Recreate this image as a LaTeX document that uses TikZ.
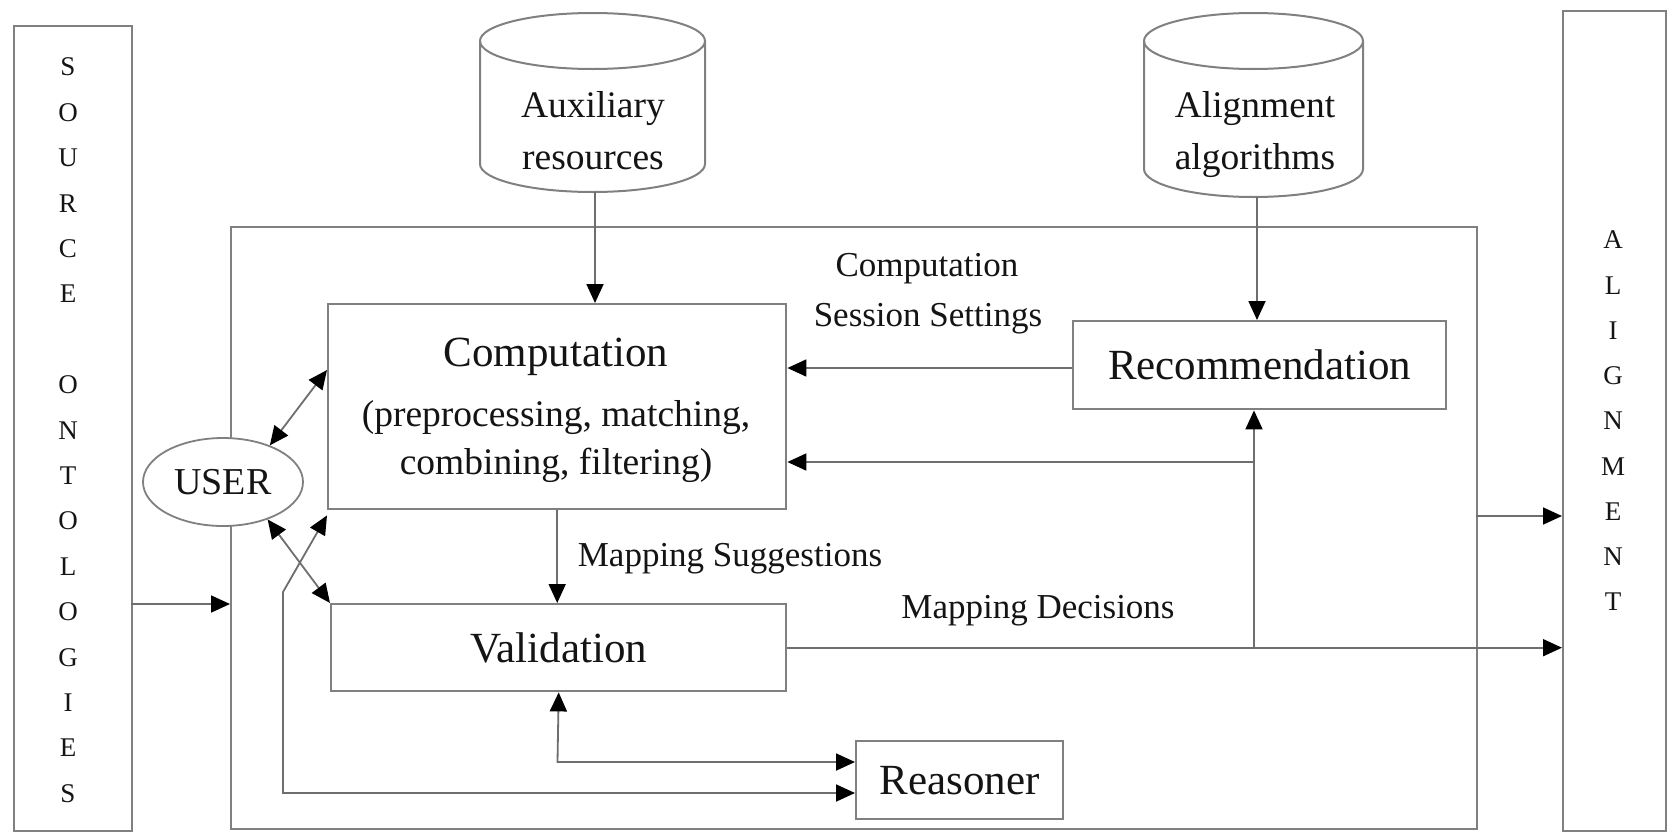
\documentclass[tikz,border=0pt]{standalone}
\usepackage{fontspec}
\setmainfont{Liberation Serif}
\usetikzlibrary{arrows.meta,shapes.geometric}
\definecolor{boxgray}{RGB}{128,128,128}
\definecolor{linegray}{RGB}{110,110,110}
\definecolor{txt}{RGB}{20,20,20}
\begin{document}
\begin{tikzpicture}[x=1pt,y=-1pt,
  box/.style={draw=boxgray, line width=2.4pt, fill=white, inner sep=0pt, anchor=north west},
  tip/.tip={Triangle[length=19pt,width=17pt,color=black]},
  conn/.style={draw=linegray, line width=1.8pt, -tip},
  both/.style={draw=linegray, line width=1.8pt, tip-tip},
  cyl/.style={draw=boxgray, line width=2pt},
  bigtxt/.style={text=txt, inner sep=0pt, font=\fontsize{43}{48}\selectfont},
  subtxt/.style={text=txt, inner sep=0pt, font=\fontsize{37.5}{44}\selectfont},
  labtxt/.style={text=txt, inner sep=0pt, font=\fontsize{35}{40}\selectfont},
  cyltxt/.style={text=txt, inner sep=0pt, align=center, font=\fontsize{37.5}{52}\selectfont},
  lettxt/.style={text=txt, inner sep=0pt, font=\fontsize{27}{29}\selectfont}
]
\useasboundingbox (0,0) rectangle (1674,833);

% main frame
\node[box, minimum width=1246pt, minimum height=602pt] (frame) at (230,226) {};

% side boxes
\node[box, minimum width=118pt, minimum height=805pt] (src) at (13,25) {};
\node[box, minimum width=103pt, minimum height=820pt] (algn) at (1562,10) {};
\foreach \l [count=\i from 0] in {S,O,U,R,C,E,{},O,N,T,O,L,O,G,I,E,S}
  \node[lettxt] (s\i) at (68,67+45.4*\i) {\l};
\foreach \l [count=\i from 0] in {A,L,I,G,N,M,E,N,T}
  \node[lettxt] (a\i) at (1613,240+45.25*\i) {\l};

% cylinders
\draw[cyl, fill=white] (480,41) -- (480,164) arc[start angle=180, end angle=0, x radius=112.5, y radius=28] -- (705,41);
\draw[cyl] (592.5,41) ellipse[x radius=112.5, y radius=28];
\node[cyltxt] (aux) at (593,131) {Auxiliary\\resources};
\draw[cyl, fill=white] (1144,41) -- (1144,169) arc[start angle=180, end angle=0, x radius=109.5, y radius=28] -- (1363,41);
\draw[cyl] (1253.5,41) ellipse[x radius=109.5, y radius=28];
\node[cyltxt] (alg) at (1255,135) {Alignment\\algorithms};
\coordinate (auxb) at (595,192);
\coordinate (algb) at (1257,197);

% process boxes
\node[box, minimum width=458pt, minimum height=205pt] (comp) at (327,303) {};
\node[bigtxt] (ctitle) at (556,357) {Computation};
\node[subtxt] (csub1) at (556,418) {(preprocessing, matching,};
\node[subtxt] (csub2) at (556,465) {combining, filtering)};
\node[box, minimum width=373pt, minimum height=88pt] (rec) at (1072,320) {};
\node[bigtxt] (rectxt) at (rec.center) {Recommendation};
\node[box, minimum width=455pt, minimum height=87pt] (val) at (330,603) {};
\node[bigtxt] (valtxt) at (val.center) {Validation};
\node[box, minimum width=207pt, minimum height=78pt] (reas) at (855,740) {};
\node[bigtxt] (reastxt) at (reas.center) {Reasoner};
\node[ellipse, draw=boxgray, line width=1.8pt, fill=white, minimum width=160pt, minimum height=88pt, inner sep=0pt, text=txt, font=\fontsize{38}{42}\selectfont] (user) at (223,482) {USER};

% labels
\node[labtxt] (lcomp) at (927,269) {Computation};
\node[labtxt] (lsess) at (928,319) {Session Settings};
\node[labtxt] (lsugg) at (730,559) {Mapping Suggestions};
\node[labtxt] (ldec) at (1038,611) {Mapping Decisions};

% connectors
\draw[conn] (auxb) -- (auxb |- comp.north);
\draw[conn] (algb) -- (algb |- rec.north);
\coordinate (rl) at (1072,368);
\draw[conn] (rl) -- (rl -| comp.east);
\coordinate (j) at (1254,646.5);
\coordinate (k) at (1254,462);
\draw[conn] (val.east) -- (val.east -| algn.west);
\draw[conn] (j) -- (j |- rec.south);
\draw[conn] (k) -- (k -| comp.east);
\coordinate (fo) at (1476,516);
\draw[conn] (fo) -- (fo -| algn.west);
\coordinate (si) at (131,604);
\draw[conn] (si) -- (si -| frame.west);
\draw[conn] (comp.south) -- (comp.south |- val.north);
\coordinate (vr) at (557.5,762);
\draw[both] (val.south) -- (vr) -- (vr -| reas.west);
\coordinate (lb) at (283,592);
\coordinate (lc) at (283,793);
\draw[both] ([yshift=-5pt]comp.south west) -- (lb) -- (lc) -- (lc -| reas.west);
\draw[both] (user.-40) -- (val.north west);
\coordinate (cu) at (327,370);
\draw[both] (user.38) -- (cu);
\end{tikzpicture}
\end{document}
